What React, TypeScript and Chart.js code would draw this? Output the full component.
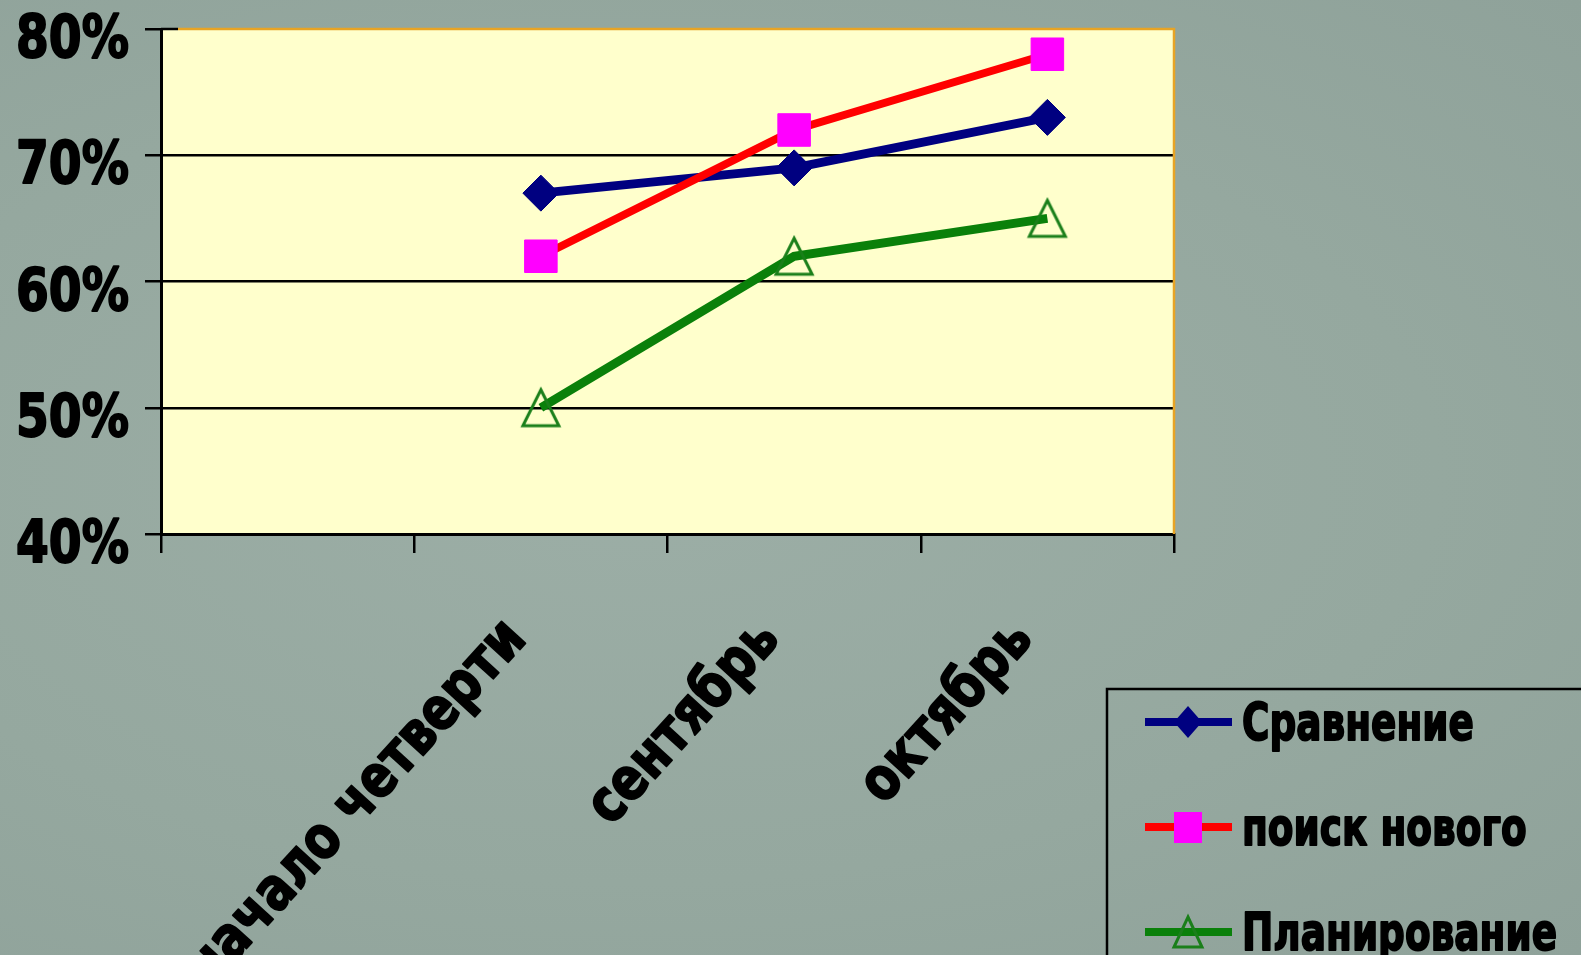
import React, { useEffect, useRef } from 'react';
import { Chart, registerables } from 'chart.js';

Chart.register(...registerables);

const categories = ['', 'начало четверти', 'сентябрь', 'октябрь'];
const seriesNames = ['Сравнение', 'поиск нового', 'Планирование'];
const comparison = [null, 67, 69, 73];
const searchNew = [null, 62, 72, 78];
const planning = [null, 50, 62, 65];
const yTickValues = [40, 50, 60, 70, 80];

const FONT = '"DejaVu Sans", Verdana, sans-serif';
const NAVY = '#000080';
const RED = '#ff0000';
const MAGENTA = '#ff00ff';
const GREEN = '#0a800a';
const GREEN_MARK = '#1a7f1a';

function makeTriangle(): HTMLCanvasElement {
  const c = document.createElement('canvas');
  c.width = 44;
  c.height = 44;
  const g = c.getContext('2d')!;
  g.strokeStyle = GREEN_MARK;
  g.lineWidth = 3;
  g.beginPath();
  g.moveTo(22, 4);
  g.lineTo(40, 40);
  g.lineTo(4, 40);
  g.closePath();
  g.stroke();
  return c;
}

function boldText(ctx: CanvasRenderingContext2D, t: string, w: number) {
  ctx.lineWidth = w;
  ctx.strokeStyle = '#000';
  ctx.lineJoin = 'round';
  ctx.strokeText(t, 0, 0);
  ctx.fillText(t, 0, 0);
}

const plotPlugin = {
  id: 'plotDecor',
  beforeDraw(chart: any) {
    const { ctx, chartArea: a } = chart;
    ctx.save();
    ctx.fillStyle = '#ffffcc';
    ctx.fillRect(a.left, a.top, a.right - a.left, a.bottom - a.top);
    ctx.restore();
  },
  beforeDatasetsDraw(chart: any) {
    const { ctx, chartArea: a } = chart;
    ctx.save();
    ctx.strokeStyle = '#e8a424';
    ctx.lineWidth = 2.5;
    ctx.beginPath();
    ctx.moveTo(a.left + 17, a.top);
    ctx.lineTo(a.right, a.top);
    ctx.lineTo(a.right, a.bottom);
    ctx.stroke();
    ctx.strokeStyle = '#000';
    ctx.beginPath();
    ctx.moveTo(a.left, a.top);
    ctx.lineTo(a.left + 17, a.top);
    ctx.stroke();
    ctx.restore();
  },
  afterDraw(chart: any) {
    const { ctx } = chart;
    const x = chart.scales.x;
    const y = chart.scales.y;
    ctx.save();
    ctx.fillStyle = '#000';
    // y tick labels
    ctx.font = `bold 59px ${FONT}`;
    ctx.textAlign = 'right';
    ctx.textBaseline = 'alphabetic';
    yTickValues.forEach((v) => {
      const py = y.getPixelForValue(v);
      ctx.save();
      ctx.translate(y.right - 32, py + 28);
      ctx.scale(0.8, 1);
      boldText(ctx, `${v}%`, 2);
      ctx.restore();
    });
    // x tick labels (rotated)
    ctx.textBaseline = 'middle';
    categories.forEach((c, i) => {
      if (!c) return;
      const px = x.getPixelForValue(i);
      ctx.save();
      ctx.translate(px - 24, x.top + 96);
      ctx.rotate(-0.83);
      ctx.scale(0.82, 1);
      boldText(ctx, c, 2);
      ctx.restore();
    });
    // legend
    const lx = 1107;
    const ly = 689;
    ctx.lineWidth = 2.5;
    ctx.strokeStyle = '#000';
    ctx.strokeRect(lx, ly, 600, 400);
    const ds = chart.data.datasets;
    ds.forEach((d: any, k: number) => {
      const cy = 722 + k * 105;
      ctx.strokeStyle = d.borderColor;
      ctx.lineWidth = 8;
      ctx.beginPath();
      ctx.moveTo(1145, cy);
      ctx.lineTo(1232, cy);
      ctx.stroke();
      const mx = 1188;
      if (k === 0) {
        ctx.fillStyle = NAVY;
        ctx.beginPath();
        ctx.moveTo(mx - 14, cy);
        ctx.lineTo(mx, cy - 16);
        ctx.lineTo(mx + 14, cy);
        ctx.lineTo(mx, cy + 16);
        ctx.closePath();
        ctx.fill();
      } else if (k === 1) {
        ctx.fillStyle = MAGENTA;
        ctx.fillRect(mx - 14, cy - 15, 28, 31);
      } else {
        ctx.strokeStyle = GREEN_MARK;
        ctx.lineWidth = 3;
        ctx.beginPath();
        ctx.moveTo(mx, cy - 15);
        ctx.lineTo(mx + 14, cy + 15);
        ctx.lineTo(mx - 14, cy + 15);
        ctx.closePath();
        ctx.stroke();
      }
      ctx.fillStyle = '#000';
      ctx.font = `bold 52px ${FONT}`;
      ctx.textAlign = 'left';
      ctx.textBaseline = 'alphabetic';
      ctx.save();
      ctx.translate(1242, cy + 18);
      ctx.scale(0.72, 1);
      boldText(ctx, d.label, 2);
      ctx.restore();
    });
    ctx.restore();
  },
};

export default function App() {
  const ref = useRef<HTMLCanvasElement | null>(null);
  useEffect(() => {
    if (!ref.current) return;
    const tri = makeTriangle();
    const chart = new Chart(ref.current, {
      type: 'line',
      data: {
        labels: categories,
        datasets: [
          {
            label: seriesNames[0],
            data: comparison,
            borderColor: NAVY,
            backgroundColor: NAVY,
            borderWidth: 9,
            pointStyle: 'rectRot',
            pointRadius: 18,
            pointBorderWidth: 1,
            pointBackgroundColor: NAVY,
            pointBorderColor: NAVY,
            order: 1,
          },
          {
            label: seriesNames[1],
            data: searchNew,
            borderColor: RED,
            backgroundColor: MAGENTA,
            borderWidth: 8,
            pointStyle: 'rect',
            pointRadius: 23,
            pointBorderWidth: 1,
            pointBackgroundColor: MAGENTA,
            pointBorderColor: MAGENTA,
            order: 0,
          },
          {
            label: seriesNames[2],
            data: planning,
            borderColor: GREEN,
            backgroundColor: GREEN,
            borderWidth: 9,
            pointStyle: tri,
            pointRadius: 20,
            order: 2,
          },
        ],
      },
      options: {
        responsive: false,
        animation: false,
        devicePixelRatio: 1,
        layout: { padding: { left: 0, right: 407, top: 28, bottom: 0 } },
        plugins: { legend: { display: false }, tooltip: { enabled: false } },
        elements: { line: { tension: 0 } },
        scales: {
          x: {
            type: 'category',
            offset: true,
            grid: {
              offset: true,
              drawOnChartArea: false,
              drawTicks: true,
              tickLength: 19,
              color: '#000',
              tickColor: '#000',
              lineWidth: 2.5,
            },
            border: { color: '#000', width: 3 },
            ticks: { display: false },
            afterFit: (s: any) => {
              s.height = 421;
            },
          },
          y: {
            min: 40,
            max: 80,
            ticks: { display: false, stepSize: 10 },
            grid: {
              color: (c: any) => (c.tick && c.tick.value === 80 ? 'rgba(0,0,0,0)' : '#000'),
              tickColor: '#000',
              lineWidth: 2.5,
              drawTicks: true,
              tickLength: 16,
            },
            border: { color: '#000', width: 3 },
            afterFit: (s: any) => {
              s.width = 161;
            },
          },
        },
      },
      plugins: [plotPlugin],
    });
    return () => chart.destroy();
  }, []);
  return (
    <div
      style={{
        position: 'fixed',
        left: 0,
        top: 0,
        width: 1581,
        height: 955,
        background: 'radial-gradient(ellipse at 40% 50%, #9caea6 0%, #95a89f 60%, #8fa29a 100%)',
        overflow: 'hidden',
      }}
    >
      <canvas ref={ref} width={1581} height={955} style={{ display: 'block' }} />
    </div>
  );
}
